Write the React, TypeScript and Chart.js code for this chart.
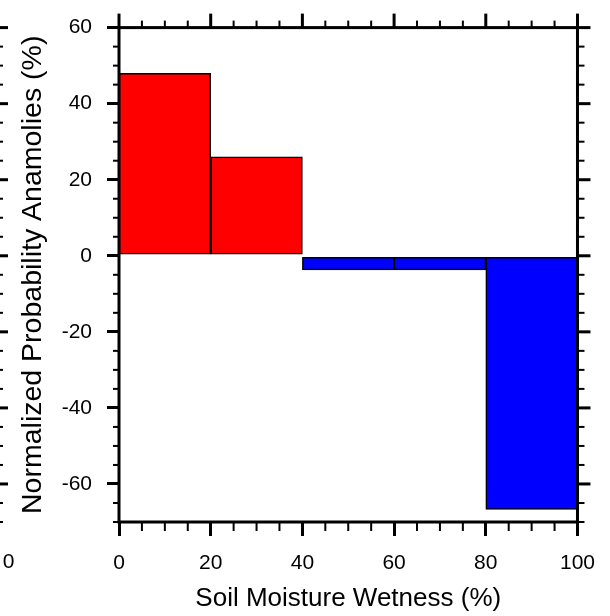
import React, { useEffect, useRef } from 'react';
import { Chart, registerables } from 'chart.js';

Chart.register(...registerables);

// ---- data ----
const binCenters = [10, 30, 50, 70, 90];
const anomalies = [48, 26, -3.7, -3.7, -66.7];
const xTicks = [0, 20, 40, 60, 80, 100];
const yTicks = [-60, -40, -20, 0, 20, 40, 60];
const xMinorStep = 5;
const yMinorStep = 5;
const xRange = [0, 100];
const yRange = [-70, 60];
const xTitle = 'Soil Moisture Wetness (%)';
const yTitle = 'Normalized Probability Anamolies (%)';
const neighbourLabel = '0';

const FONT = "'Liberation Sans', Arial, Helvetica, sans-serif";

const framePlugin = {
  id: 'nclFrame',
  afterDraw(chart: any) {
    const { ctx, chartArea, scales } = chart;
    const { left, right, top, bottom } = chartArea;
    const xs = scales.x;
    const ys = scales.y;
    ctx.save();
    ctx.strokeStyle = '#000';
    ctx.lineCap = 'butt';
    const line = (x1: number, y1: number, x2: number, y2: number, w: number) => {
      ctx.lineWidth = w;
      ctx.beginPath();
      ctx.moveTo(x1, y1);
      ctx.lineTo(x2, y2);
      ctx.stroke();
    };
    for (let v = yRange[0]; v <= yRange[1]; v += yMinorStep) {
      const py = ys.getPixelForValue(v);
      const major = yTicks.includes(v);
      if (major) {
        line(right, py, right + 13, py, 3);
      } else {
        line(left - 6, py, left, py, 2);
        line(right, py, right + 7, py, 2);
      }
      line(0, py, major ? 8 : 3, py, major ? 3 : 2);
    }
    for (let v = xRange[0]; v <= xRange[1]; v += xMinorStep) {
      const px = xs.getPixelForValue(v);
      const major = xTicks.includes(v);
      if (major) {
        line(px, top, px, top - 14, 3);
      } else {
        line(px, bottom, px, bottom + 9, 2);
        line(px, top, px, top - 7, 2);
      }
    }
    ctx.lineWidth = 3;
    ctx.strokeRect(left, top, right - left, bottom - top);
    // label of the neighbouring (clipped) panel, on the same row as the x tick labels
    ctx.fillStyle = '#000';
    ctx.font = `21px ${FONT}`;
    ctx.textAlign = 'center';
    ctx.textBaseline = 'middle';
    ctx.fillText(neighbourLabel, 8.5, bottom + 40);
    ctx.restore();
  },
};

export default function App() {
  const ref = useRef<HTMLCanvasElement | null>(null);
  useEffect(() => {
    document.body.style.margin = '0';
    if (!ref.current) return;
    Chart.defaults.font.family = FONT;
    Chart.defaults.color = '#000';
    const chart = new Chart(ref.current, {
      type: 'bar',
      data: {
        datasets: [
          {
            data: binCenters.map((x, i) => ({ x, y: anomalies[i] })),
            backgroundColor: anomalies.map((v) => (v >= 0 ? '#ff0000' : '#0000ff')),
            borderColor: '#000',
            borderWidth: 1.5,
            borderSkipped: false,
            barPercentage: 1,
            categoryPercentage: 1,
          },
        ],
      },
      options: {
        responsive: false,
        animation: false,
        events: [],
        layout: { padding: { top: 21, right: 32, left: 0, bottom: 0 } },
        plugins: { legend: { display: false }, tooltip: { enabled: false } },
        scales: {
          x: {
            type: 'linear',
            min: xRange[0],
            max: xRange[1],
            offset: false,
            afterBuildTicks: (s: any) => {
              s.ticks = xTicks.map((v) => ({ value: v }));
            },
            afterFit: (s: any) => {
              s.height = 94;
            },
            grid: {
              display: true,
              offset: false,
              drawOnChartArea: false,
              drawTicks: true,
              tickLength: 14,
              color: '#000',
              lineWidth: 3,
            },
            border: { display: false },
            ticks: {
              font: { size: 21 },
              padding: 15,
              maxRotation: 0,
              autoSkip: false,
              callback: (v: any) => String(v),
            },
            title: {
              display: true,
              text: xTitle,
              font: { size: 26 },
              padding: { top: 0, bottom: 2 },
            },
          },
          y: {
            type: 'linear',
            min: yRange[0],
            max: yRange[1],
            afterBuildTicks: (s: any) => {
              s.ticks = yTicks.map((v) => ({ value: v }));
            },
            afterFit: (s: any) => {
              s.width = 119;
            },
            grid: {
              display: true,
              offset: false,
              drawOnChartArea: false,
              drawTicks: true,
              tickLength: 12,
              color: '#000',
              lineWidth: 3,
            },
            border: { display: false },
            ticks: {
              font: { size: 21 },
              padding: 15,
              autoSkip: false,
              callback: (v: any) => String(v),
            },
            title: {
              display: true,
              text: yTitle,
              font: { size: 28.5 },
              padding: { top: 16, bottom: 0 },
            },
          },
        },
      },
      plugins: [framePlugin],
    });
    return () => chart.destroy();
  }, []);
  return <canvas ref={ref} width={610} height={616} style={{ display: 'block' }} />;
}
